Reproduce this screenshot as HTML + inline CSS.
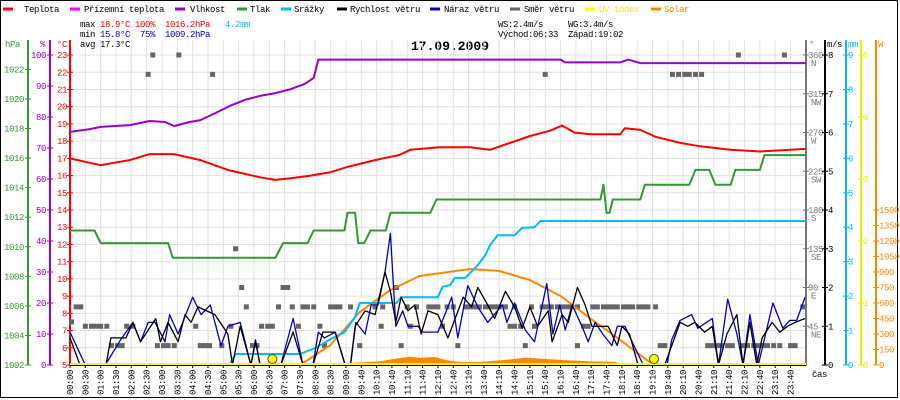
<!DOCTYPE html>
<html><head><meta charset="utf-8"><style>
html,body{margin:0;padding:0;background:#fff;width:900px;height:400px;overflow:hidden}
svg{display:block}
text{font-family:"Liberation Mono",monospace;font-size:9px;letter-spacing:-0.4px}
</style></head><body>
<svg id="c" width="900" height="400" xmlns="http://www.w3.org/2000/svg">
<rect x="0.5" y="0.5" width="897" height="397" fill="#fff" stroke="#000"/>
<g>
<line x1="3" y1="9" x2="13" y2="9" stroke="#f00" stroke-width="3"/><text x="24" y="12">Teplota</text>
<line x1="70" y1="9" x2="80" y2="9" stroke="#f0f" stroke-width="3"/><text x="84" y="12">Přízemní teplota</text>
<line x1="175" y1="9" x2="185" y2="9" stroke="#90c" stroke-width="3"/><text x="190" y="12">Vlhkost</text>
<line x1="237" y1="9" x2="247" y2="9" stroke="#393" stroke-width="3"/><text x="250" y="12">Tlak</text>
<line x1="281" y1="9" x2="291" y2="9" stroke="#0bf" stroke-width="3"/><text x="294" y="12">Srážky</text>
<line x1="337" y1="9" x2="347" y2="9" stroke="#000" stroke-width="3"/><text x="350" y="12">Rychlost větru</text>
<line x1="430" y1="9" x2="440" y2="9" stroke="#00c" stroke-width="3"/><text x="444" y="12">Náraz větru</text>
<line x1="510" y1="9" x2="520" y2="9" stroke="#666" stroke-width="3"/><text x="524" y="12">Směr větru</text>
<line x1="585" y1="9" x2="595" y2="9" stroke="#ff0" stroke-width="3"/><text x="599" y="12" fill="#ee0">UV index</text>
<line x1="651" y1="9" x2="661" y2="9" stroke="#f80" stroke-width="3"/><text x="664" y="12" fill="#f80">Solar</text>
</g>
<g>
<text x="80" y="27">max</text><text x="100" y="27" fill="#f00">18.9°C</text><text x="135" y="27" fill="#f00">100%</text><text x="165" y="27" fill="#f00">1016.2hPa</text><text x="225" y="27" fill="#0bf">4.2mm</text>
<text x="80" y="37">min</text><text x="100" y="37" fill="#00c">15.8°C</text><text x="140" y="37" fill="#00c">75%</text><text x="165" y="37" fill="#00c">1009.2hPa</text>
<text x="80" y="47">avg 17.3°C</text>
<text x="498" y="27">WS:2.4m/s</text><text x="568" y="27">WG:3.4m/s</text>
<text x="498" y="37">Východ:06:33</text><text x="568" y="37">Západ:19:02</text>
</g>
<text x="450" y="50" text-anchor="middle" style="font-size:13px;font-weight:bold;letter-spacing:0">17.09.2009</text>
<g id="plot"></g>
</svg>
<script>
// ---- data (x in time-slot units along the axis) ----
const timeLabels=["00:00","00:30","01:00","01:30","02:00","02:30","03:00","03:30","04:00","04:30","05:00","05:30","06:00","06:30","07:00","07:30","08:00","08:30","09:00","09:40","10:10","10:40","11:10","11:40","12:10","12:40","13:10","13:40","14:10","14:40","15:10","15:40","16:10","16:40","17:10","17:40","18:10","18:40","19:10","19:40","20:10","20:40","21:10","21:40","22:10","22:40","23:10","23:40"];
const tempT=[0,1,2,3.9,5.2,6.8,8.5,10.4,12.4,13.4,14.4,15.7,17,18.3,19.9,21.5,22.2,24.1,26.1,27.4,28.7,30,31.3,32.1,32.9,33.9,35.9,36.2,37.2,38.2,39.8,41.1,43.1,45,47,48];
const tempV=[17.0,16.8,16.6,16.9,17.25,17.25,16.9,16.3,15.9,15.75,15.85,16.0,16.2,16.55,16.9,17.2,17.5,17.65,17.65,17.5,17.9,18.3,18.6,18.9,18.5,18.4,18.4,18.75,18.65,18.25,17.9,17.7,17.5,17.4,17.5,17.55];
const humT=[0,1.3,2,3.9,5.2,6.2,6.8,7.8,8.5,9.5,10.4,11.4,12.4,13.4,14.4,15.3,15.9,16.2,32,32.3,35.9,36.4,37.2,48];
const humV=[75.2,76.1,76.8,77.4,78.7,78.4,77.1,78.4,79,81.3,83.5,85.5,86.8,87.7,89,90.6,92.6,98.5,98.5,97.6,97.6,98.5,97.4,97.4];
const presT=[0,1.6,2,6.4,6.7,13.4,13.9,15.5,15.9,17.9,18.1,18.6,18.8,19.2,19.6,20.6,20.9,23.5,23.9,34.6,34.8,35,35.2,35.4,37.2,37.5,40.4,40.8,41.7,42.1,43.1,43.4,45,45.3,48];
const presV=[1011.1,1011.1,1010.25,1010.25,1009.25,1009.25,1010.25,1010.25,1011.1,1011.1,1012.3,1012.3,1010.25,1010.25,1011.1,1011.1,1012.3,1012.3,1013.2,1013.2,1014.2,1012.3,1012.3,1013.2,1013.2,1014.2,1014.2,1015.2,1015.2,1014.2,1014.2,1015.2,1015.2,1016.2,1016.2];
const rainT=[10.4,10.8,15,16,17,17.9,18.6,18.9,21.3,21.6,24,24.3,24.8,25.1,25.8,26.6,27.1,27.4,27.9,29,29.5,30.3,30.7,48];
const rainV=[0,0.32,0.32,0.49,0.75,0.95,1.4,1.8,1.8,1.97,1.97,2.27,2.32,2.53,2.53,2.9,3.19,3.48,3.77,3.77,3.98,4.0,4.18,4.18];
const windT=[0,0.65,2.35,2.67,3.65,4.1,4.6,5.6,5.9,6.4,7.05,7.5,7.9,8.35,9.45,10.3,10.6,11.1,11.8,12.1,12.4,13.75,14.55,15.2,15.85,16.5,17.3,17.95,18.3,18.6,19.25,19.9,20.55,20.9,21.25,21.6,22.05,22.5,22.9,23.35,24,24.65,25.65,26.2,26.6,27.25,27.7,28.4,29,29.5,30,30.5,31.2,31.45,32.1,32.5,33.1,33.6,34.05,34.25,35.1,35.7,36,36.5,37.05,38.8,39.8,40.3,40.75,41.4,41.9,42.3,42.85,43.5,43.9,44.35,44.8,45.15,45.8,46.3,46.8,47.3,47.95];
const windV=[0.7,0,0,0.7,0.7,1.1,0.6,1.2,0.6,1.1,0.6,1.3,1.1,1.5,1.3,0.8,0,1.0,0,0.6,0,0,0.85,0,0,0.85,0.85,0,0,1.0,1.4,1.3,2.4,1.9,1.1,1.75,1.4,1.55,0.8,1.4,1.3,0.7,1.75,1.5,2.0,1.55,1.2,1.9,1.5,0.95,1.5,1.0,1.4,0.6,1.3,1.1,2.0,1.55,1.0,1.0,1.0,0.5,1.0,0.8,0,0,1.1,1.0,1.1,0.85,1.0,0,0.8,1.3,0,1.1,0,0.7,1.1,0.85,1.0,1.1,1.2];
const gustT=[0,1,2.3,3.3,4.1,4.6,5.1,5.55,6.2,6.5,7.05,8,8.55,9.15,9.85,10.3,11.1,11.8,12.1,12.4,13.75,14.55,15.2,15.85,16.2,16.6,17.3,17.95,18.3,18.65,19.25,19.65,20.1,20.55,20.9,21.25,21.7,22.05,22.7,23,24,24.35,24.9,25.3,25.95,26.6,27.25,28.2,28.5,29,29.7,30.3,31.1,31.5,31.95,32.3,32.75,33.4,33.8,34.25,34.75,35.35,35.7,36.2,36.85,37.4,38.95,39.25,39.8,40.55,40.95,41.9,42.3,42.9,43.5,43.9,44.35,44.9,45.85,46.5,46.95,47.4,47.95];
const gustV=[0.85,0,0,0.65,1.1,0.6,1.1,1.1,0.6,1.3,0.8,1.75,1.3,1.55,0.5,1.0,1.1,0,0.65,0,0,1.2,0,0,0.85,0.7,0.85,0,0,1.1,0.8,1.55,1.55,2.4,3.4,1.0,1.4,1.0,1.0,0.85,0.85,1.2,1.75,0.7,2.05,1.5,1.1,1.55,1.1,1.6,0.9,0.6,2.1,0.8,1.55,0.9,1.55,1.0,0.6,1.1,0.8,0.5,1.0,1.0,0.45,0,0,0.65,1.15,1.3,0.95,1.2,0,1.7,0.8,0,1.3,0,1.6,0.95,1.15,1.15,1.75];
const dirT=[0.1,0.4,0.7,11.5,13.6,14.5,15.2,15.5,15.9,17,17.3,17.6,18.3,19.9,20.4,22,22.6,23.4,23.7,24,24.6,25,25.8,26.1,26.4,26.7,27.1,27.4,27.7,28,28.4,29,30.1,30.8,31.1,31.4,31.8,32.1,32.4,32.7,33.1,34.1,34.4,34.8,35.1,35.4,35.7,36.1,36.4,36.7,37.1,37.4,37.7,38.2,47.8,
1,1.4,1.7,2,2.4,3.7,4.1,8.2,10.5,12.5,12.9,13.2,14.9,16.3,20.3,22.2,24.3,28.7,29,29.4,30.3,33.5,33.8,
2.7,3.1,3.4,5.7,6.1,6.4,6.8,8.5,8.8,9.1,9.9,11.9,12.2,16.6,18.9,21.6,25.3,29.7,33.1,38.5,38.8,41.6,41.9,42.2,42.5,42.9,43.2,43.9,44.2,44.6,44.9,45.2,45.5,45.9,46.3,47,47.3,
11.2,13.9,14.2,21.3,10.8,5.1,9.3,31,39.3,39.7,40.1,40.4,40.8,41.2,5.4,7.1,43.6,46.6];
const dirV=[50,67.5,67.5,67.5,67.5,67.5,67.5,67.5,67.5,67.5,67.5,67.5,67.5,67.5,67.5,67.5,67.5,67.5,67.5,67.5,67.5,67.5,67.5,67.5,67.5,67.5,67.5,67.5,67.5,67.5,67.5,67.5,67.5,67.5,67.5,67.5,67.5,67.5,67.5,67.5,67.5,67.5,67.5,67.5,67.5,67.5,67.5,67.5,67.5,67.5,67.5,67.5,67.5,67.5,67.5,
45,45,45,45,45,45,45,45,45,45,45,45,45,45,45,45,45,45,45,45,45,45,45,
22.5,22.5,22.5,22.5,22.5,22.5,22.5,22.5,22.5,22.5,22.5,22.5,22.5,22.5,22.5,22.5,22.5,22.5,22.5,22.5,22.5,22.5,22.5,22.5,22.5,22.5,22.5,22.5,22.5,22.5,22.5,22.5,22.5,22.5,22.5,22.5,22.5,
90,90,90,90,135,337.5,337.5,337.5,337.5,337.5,337.5,337.5,337.5,337.5,360,360,360,360];
const sunT=[15,17,18.9,20.9,22.8,26.1,28,30,32,33.9,35.9,37.8,38.2];
const sunV=[0,194,513,726,861,929,910,823,668,455,242,29,0];
const solT=[17.6,17.9,18.9,20.2,21.2,22.2,22.8,23.8,24.5,25.4,26.7,28,29,29.7,30.3,31.3,32.6,33.9,35.6,36.2];
const solV=[0,15,25,35,60,80,70,77,48,29,29,45,58,70,65,55,45,35,30,0];
const uvMarkT=[13.2,38.1];
const hpaTicks=[1002,1004,1006,1008,1010,1012,1014,1016,1018,1020,1022];
const pctTicks=[0,10,20,30,40,50,60,70,80,90,100];
const degTicks=[0,45,90,135,180,225,270,315,360];
const degNames=["","NE","E","SE","S","SW","W","NW","N"];
const msTicks=[0,1,2,3,4,5,6,7,8];
const mmTicks=[0,1,2,3,4,5,6,7,8,9];
const uvTicks=[0,1,2,3,4,5];
const wTicks=[0,150,300,450,600,750,900,1050,1200,1350,1500];

// ---- scales ----
const X0=70,X1=806,YB=365,YT=40,SL=15.33;
const xs=s=>X0+s*SL;
const yC=v=>YB-(v-5)*17.22, yP=v=>YB-v*3.1, yH=v=>YB-(v-1002)*14.78, yW=v=>YB-v*38.75;
const yD=v=>YB-v/360*310, yMM=v=>YB-v*34.44, yUV=v=>YB-v*62, ySol=v=>YB-v*155/1500;
const NS="http://www.w3.org/2000/svg", plot=document.getElementById('plot');
function mk(tag,at,parent){const e=document.createElementNS(NS,tag);for(const k in at)e.setAttribute(k,at[k]);(parent||plot).appendChild(e);return e;}
function txt(x,y,s,fill,anchor,parent){const t=mk('text',{x:x,y:y,fill:fill||'#000','text-anchor':anchor||'start'},parent);t.textContent=s;return t;}

// grid
const grid=mk('g',{});


for(let i=0;i<=48;i++){const x=xs(i);mk('line',{x1:x,y1:YT,x2:x,y2:YB,stroke:'#e6e0e0','stroke-width':1},grid);}
for(let v=5;v<=24;v++){const y=yC(v);if(y<YT)continue;mk('line',{x1:X0,y1:y,x2:X1,y2:y,stroke:'#e6e0e0','stroke-width':1},grid);}

function axis(name,x,color,ticks,yf,labX,anchor,fmt){
  const g=mk('g',{});
  
  
  mk('line',{x1:x,y1:YT,x2:x,y2:YB,stroke:color,'stroke-width':2},g);
  ticks.forEach((v,i)=>{const y=yf(v);mk('line',{x1:x-3,y1:y,x2:x+3,y2:y,stroke:color},g);txt(labX,y+3,fmt?fmt(v,i):String(v),color,anchor,g);});
  return g;
}
axis('hpa-axis',28,'#393',hpaTicks,yH,24,'end');
axis('humidity-axis',50,'#90c',pctTicks,yP,46,'end');
axis('temperature-axis',70,'#f00',[5,6,7,8,9,10,11,12,13,14,15,16,17,18,19,20,21,22,23],yC,67,'end');
const dg=axis('direction-axis',806,'#777',degTicks.slice(1),yD,808,'start');
degTicks.forEach((v,i)=>{if(degNames[i])txt(811,yD(v)+11,degNames[i],'#777','start',dg);});
axis('wind-speed-axis',825,'#000',msTicks,yW,828,'start');
axis('rain-axis',846,'#0bf',mmTicks,yMM,848,'start');
axis('uv-axis',861,'#ee0',uvTicks,yUV,863,'start');
const wa=mk('g',{});


mk('line',{x1:876,y1:YT,x2:876,y2:YB,stroke:'#f80','stroke-width':2},wa);
wTicks.forEach(v=>{const y=ySol(v);mk('line',{x1:873,y1:y,x2:879,y2:y,stroke:'#f80'},wa);txt(879,y+3,String(v),'#f80','start',wa);});
[['hPa',5,'#393'],['%',40,'#90c'],['°C',57,'#f00'],['°',809,'#777'],['m/s',827,'#000'],['mm',848,'#0bf'],['W',878,'#f80']].forEach(a=>{const t=txt(a[1],47,a[0],a[2]);});
const cas=txt(812,377,'čas','#000');



// x axis
const xa=mk('g',{});


mk('line',{x1:X0,y1:YB,x2:X1,y2:YB,stroke:'#000','stroke-width':2},xa);
timeLabels.forEach((l,i)=>{const x=xs(i);mk('line',{x1:x,y1:YB,x2:x,y2:YB+3,stroke:'#000'},xa);const t=txt(x+3,370,l,'#000','end',xa);t.setAttribute('transform','rotate(-90 '+(x+3)+' 370)');});

function path(T,V,yf){return T.map((t,i)=>(i?'L':'M')+xs(t).toFixed(1)+' '+yf(V[i]).toFixed(1)).join(' ');}
function series(name,T,V,yf,color,w){const p=mk('path',{d:path(T,V,yf),fill:'none',stroke:color,'stroke-width':w,'stroke-linejoin':'round'});return p;}

// solar measured area
const sa=mk('path',{d:path(solT,solV,ySol)+' L'+xs(solT[solT.length-1])+' '+YB+' L'+xs(solT[0])+' '+YB+' Z',fill:'#f80',stroke:'none'});


// direction squares
const dirG=mk('g',{});


dirT.forEach((t,i)=>{mk('rect',{x:xs(t)-2.5,y:yD(dirV[i])-2.5,width:5,height:5,fill:'#666'},dirG);});
series('solar-theoretical-line',sunT,sunV,ySol,'#f80',2);
series('pressure-line',presT,presV,yH,'#393',2);
series('rain-line',rainT,rainV,yMM,'#0bf',2);
series('humidity-line',humT,humV,yP,'#90c',2);
series('temperature-line',tempT,tempV,yC,'#f00',2);
series('wind-gust-line',gustT,gustV,yW,'#00c',1.3);
series('wind-speed-line',windT,windV,yW,'#000',1.3);
const uvl=mk('line',{x1:X0,y1:YB-1,x2:X1,y2:YB-1,stroke:'#ff0','stroke-width':2});


uvMarkT.forEach((t,i)=>{const c=mk('circle',{cx:xs(t),cy:YB-6,r:4.5,fill:'#ff0',stroke:'#444','stroke-width':1});});
</script>
</body></html>
